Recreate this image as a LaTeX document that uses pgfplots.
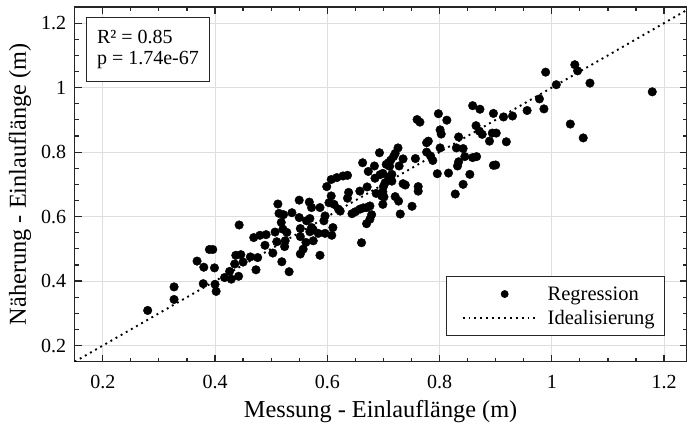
\documentclass[border=0pt]{standalone}
\usepackage{pgfplots}
\pgfplotsset{compat=1.18}
\usepackage{fontspec}
\setmainfont{Liberation Serif}

\pgfplotstableread{
x y
0.280 0.309
0.327 0.382
0.327 0.343
0.379 0.392
0.400 0.390
0.402 0.368
0.368 0.462
0.380 0.443
0.399 0.441
0.390 0.498
0.396 0.498
0.443 0.574
0.417 0.411
0.429 0.406
0.442 0.415
0.426 0.430
0.435 0.453
0.437 0.480
0.446 0.482
0.450 0.459
0.463 0.475
0.476 0.473
0.473 0.435
0.489 0.511
0.469 0.535
0.480 0.542
0.491 0.544
0.507 0.552
0.510 0.522
0.519 0.460
0.524 0.507
0.525 0.525
0.512 0.639
0.514 0.610
0.522 0.606
0.518 0.582
0.521 0.561
0.528 0.551
0.532 0.429
0.537 0.612
0.550 0.651
0.568 0.645
0.572 0.628
0.587 0.628
0.599 0.693
0.607 0.715
0.617 0.721
0.628 0.726
0.636 0.728
0.607 0.664
0.638 0.675
0.636 0.657
0.603 0.643
0.612 0.638
0.620 0.623
0.623 0.617
0.550 0.597
0.563 0.587
0.569 0.594
0.596 0.602
0.594 0.587
0.552 0.563
0.572 0.566
0.575 0.559
0.569 0.553
0.584 0.548
0.596 0.548
0.610 0.566
0.608 0.542
0.552 0.538
0.562 0.520
0.575 0.525
0.557 0.499
0.552 0.484
0.503 0.487
0.587 0.480
0.726 0.813
0.721 0.796
0.718 0.786
0.713 0.775
0.709 0.767
0.705 0.762
0.711 0.756
0.693 0.798
0.728 0.757
0.663 0.767
0.684 0.757
0.673 0.740
0.699 0.734
0.694 0.730
0.685 0.719
0.715 0.731
0.709 0.723
0.715 0.710
0.703 0.705
0.700 0.693
0.699 0.677
0.697 0.664
0.701 0.661
0.687 0.672
0.671 0.692
0.658 0.679
0.721 0.662
0.727 0.648
0.699 0.638
0.676 0.633
0.670 0.628
0.664 0.627
0.658 0.623
0.650 0.615
0.644 0.609
0.679 0.606
0.676 0.592
0.670 0.578
0.661 0.519
1.179 0.987
1.041 1.071
1.046 1.052
1.068 1.014
0.989 1.048
1.008 1.009
0.978 0.965
0.986 0.934
0.956 0.929
0.930 0.912
0.914 0.909
0.896 0.920
0.859 0.944
0.872 0.933
1.033 0.887
1.056 0.844
0.865 0.882
0.871 0.865
0.876 0.855
0.894 0.859
0.901 0.859
0.889 0.834
0.919 0.832
0.798 0.919
0.813 0.899
0.760 0.901
0.765 0.893
0.801 0.869
0.803 0.856
0.834 0.847
0.780 0.834
0.777 0.829
0.801 0.813
0.830 0.813
0.842 0.811
0.845 0.786
0.859 0.783
0.866 0.786
0.834 0.770
0.832 0.757
0.816 0.735
0.796 0.733
0.854 0.731
0.842 0.700
0.828 0.670
0.896 0.759
0.900 0.760
0.777 0.800
0.784 0.788
0.788 0.774
0.757 0.780
0.735 0.779
0.762 0.693
0.762 0.679
0.751 0.632
0.730 0.608
0.735 0.702
0.739 0.698
}\datatable

\begin{document}
\begin{tikzpicture}
\begin{axis}[
  name=ax,
  width=611.8pt, height=354.7pt, scale only axis,
  xmin=0.15, xmax=1.24, ymin=0.15, ymax=1.25,
  xtick={0.2,0.4,0.6,0.8,1,1.2}, xticklabels={0.2,0.4,0.6,0.8,1,1.2},
  ytick={0.2,0.4,0.6,0.8,1,1.2}, yticklabels={0.2,0.4,0.6,0.8,1,1.2},
  minor x tick num=3, minor y tick num=3,
  tick align=inside, tick pos=both, ticklabel pos=left,
  major tick length=7pt, minor tick length=4pt,
  every tick/.style={black!85, line width=1.2pt},
  axis line style={black!85, line width=1.5pt},
  grid=major, major grid style={black!13, line width=0.7pt},
  /pgf/number format/assume math mode=true,
  tick label style={font=\fontsize{20}{24}\selectfont},
  xticklabel style={yshift=-10pt},
  yticklabel style={xshift=-5pt},
  xlabel={Messung - Einlauflänge (m)},
  ylabel={Näherung - Einlauflänge (m)},
  label style={font=\fontsize{24.3}{28}\selectfont},
  xlabel style={at={(axis description cs:0.5,-0.141)}, anchor=center},
  ylabel style={at={(axis description cs:-0.0894,0.5)}, anchor=center},
  legend cell align=left,
  legend style={at={(0.965,0.0725)}, anchor=south east, draw=black!85,
    line width=0.8pt, fill=white, font=\fontsize{20.5}{24}\selectfont,
    inner xsep=8pt, inner ysep=8pt, row sep=4.3pt},
]
\addplot[only marks, mark=*, mark size=4.3pt, black,
  legend image code/.code={\path[draw=none,fill=none] (-8pt,0pt) -- (83pt,0pt); \fill[black] (42pt,0pt) circle (3.5pt);}]
  table[x=x, y=y] {\datatable};
\addlegendentry{Regression}
\addplot[black, line width=1.9pt, dash pattern=on 1.9pt off 4pt,
  legend image code/.code={\path[draw=none,fill=none] (-8pt,0pt) -- (83pt,0pt); \draw[black, line width=1.9pt, dash pattern=on 1.9pt off 4pt] (0pt,0pt) -- (74pt,0pt);}]
  coordinates {(0.15,0.15) (1.25,1.25)};
\addlegendentry{Idealisierung}
\node[draw=black!85, line width=0.8pt, fill=white, anchor=north west, align=left,
  inner xsep=8pt, minimum width=123pt, minimum height=64pt,
  font=\fontsize{20}{21.7}\selectfont]
  at (rel axis cs:0.0185,0.9718) {R² = 0.85\\p = 1.74e-67};
\end{axis}
\pgfresetboundingbox
\path ([shift={(-74.7pt,-67.3pt)}]ax.south west) rectangle ([shift={(0.5pt,7pt)}]ax.north east);
\end{tikzpicture}
\end{document}
